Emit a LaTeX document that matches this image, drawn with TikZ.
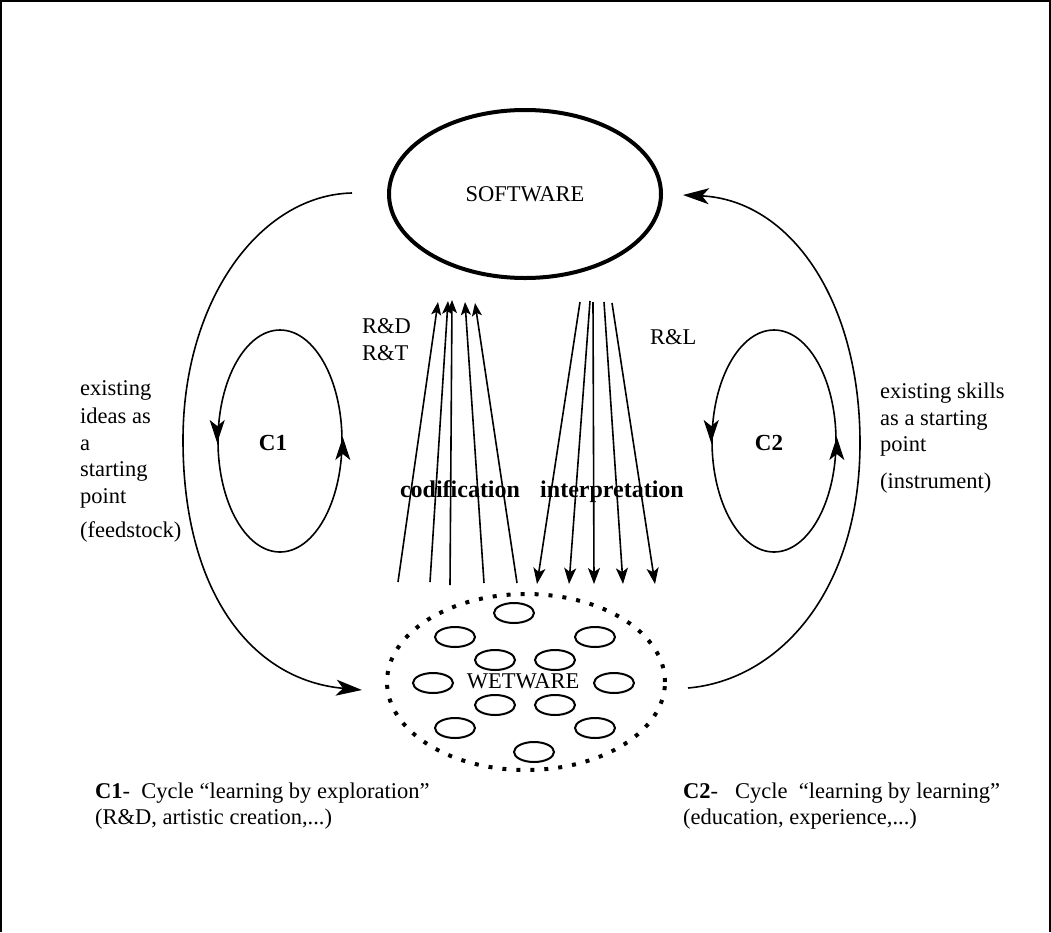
\documentclass[tikz,border=0pt]{standalone}
\usepackage{fontspec}
\setmainfont{Liberation Serif}
\usetikzlibrary{arrows.meta,shapes.geometric}
\begin{document}
\begin{tikzpicture}[x=1pt,y=-1pt,
  txt/.style={font=\fontsize{22.5}{27}\selectfont, inner sep=0pt, anchor=base west},
  boldlab/.style={font=\fontsize{23}{27}\selectfont\bfseries, inner sep=0pt},
  bigword/.style={font=\fontsize{24}{27}\selectfont\bfseries, inner sep=0pt, anchor=base},
  thinline/.style={line width=1.6pt},
  bigarrow/.style={thinline, -{Stealth[length=26pt,width=16pt,inset=7pt]}},
  cycarrow/.style={thinline, -{Stealth[length=23pt,width=15pt,inset=6pt]}},
  uparrow/.style={line width=1.6pt, -{Stealth[length=13pt,width=10pt,inset=3pt]}},
  downarrow/.style={line width=1.6pt, -{Stealth[length=16pt,width=12pt,inset=4pt]}},
  cell/.style={draw, ellipse, line width=2pt, minimum width=40pt, minimum height=20pt, inner sep=0pt},
  cycle/.style={draw, ellipse, thinline, minimum width=124pt, minimum height=222pt, inner sep=0pt}
]
\useasboundingbox (0,0) rectangle (1051,932);
% frame
\draw[line width=1.5pt] (1,932) -- (1,1) -- (1050,1) -- (1050,932);

% SOFTWARE
\node[draw, ellipse, line width=4pt, minimum width=272pt, minimum height=168pt, inner sep=0pt,
      font=\fontsize{22.5}{27}\selectfont] (sw) at (525,194) {SOFTWARE};

% WETWARE
\node[draw, ellipse, line width=4pt, dash pattern=on 4pt off 10pt, minimum width=278pt,
      minimum height=176pt, inner sep=0pt] (ww) at (526,682) {};
\node[cell] (w1) at (514,613) {};
\node[cell] (w2) at (455,637) {};
\node[cell] (w3) at (595,637) {};
\node[cell] (w4) at (495,660) {};
\node[cell] (w5) at (555,660) {};
\node[cell] (w6) at (433,683) {};
\node[cell] (w7) at (614,683) {};
\node[cell] (w8) at (495,705) {};
\node[cell] (w9) at (555,705) {};
\node[cell] (w10) at (455,728) {};
\node[cell] (w11) at (595,728) {};
\node[cell] (w12) at (534,752) {};
\node[font=\fontsize{22.5}{27}\selectfont, inner sep=0pt] (wwlab) at (523,681) {WETWARE};

% cycles
\node[cycle] (c1) at (280,441) {};
\node[boldlab] (c1lab) at (273,443) {C1};
\draw[cycarrow] ([yshift=4pt]c1.west) -- ([yshift=-2pt]c1.west);
\draw[cycarrow] ([yshift=-6pt]c1.east) -- ([yshift=4pt]c1.east);

\node[cycle] (c2) at (774,441) {};
\node[boldlab] (c2lab) at (769,443) {C2};
\draw[cycarrow] ([yshift=4pt]c2.west) -- ([yshift=-2pt]c2.west);
\draw[cycarrow] ([yshift=-6pt]c2.east) -- ([yshift=4pt]c2.east);

% big curves
\coordinate (l0) at (352,193);
\coordinate (l1) at (362,690);
\coordinate (r0) at (688,688);
\coordinate (r1) at (683,195);
\draw[bigarrow] (l0) .. controls (260,195) and (183,300) .. (183,440)
   .. controls (183,590) and (250,680) .. (l1);
\draw[bigarrow] (r0) .. controls (780,680) and (860,590) .. (860,443)
   .. controls (860,300) and (790,200) .. (r1);

% codification arrows
\coordinate (cb1) at (398,582); \coordinate (ct1) at (438,302);
\coordinate (cb2) at (430,582); \coordinate (ct2) at (448,301);
\coordinate (cb3) at (450,585); \coordinate (ct3) at (452,300);
\coordinate (cb4) at (484,583); \coordinate (ct4) at (465,302);
\coordinate (cb5) at (517,583); \coordinate (ct5) at (475,303);
\foreach \i in {1,...,5} \draw[uparrow] (cb\i) -- (ct\i);

% interpretation arrows
\coordinate (it1) at (580,302); \coordinate (ib1) at (537,584);
\coordinate (it2) at (590,301); \coordinate (ib2) at (569,584);
\coordinate (it3) at (593,302); \coordinate (ib3) at (594,584);
\coordinate (it4) at (604,302); \coordinate (ib4) at (623,584);
\coordinate (it5) at (612,303); \coordinate (ib5) at (655,584);
\foreach \i in {1,...,5} \draw[downarrow] (it\i) -- (ib\i);

% labels in the middle
\node[txt] (rd) at (362,333) {R\&D};
\node[txt] (rt) at (362,360) {R\&T};
\node[txt] (rl) at (650,344) {R\&L};
\node[bigword] (cod) at (460,497) {codification};
\node[bigword] (int) at (612,497) {interpretation};

% left side text
\node[txt] (la1) at (80,395) {existing};
\node[txt] (la2) at (80,423) {ideas as};
\node[txt] (la3) at (80,450) {a};
\node[txt] (la4) at (80,476) {starting};
\node[txt] (la5) at (80,503) {point};
\node[txt] (la6) at (80,537) {(feedstock)};

% right side text
\node[txt] (ra1) at (880,398) {existing skills};
\node[txt] (ra2) at (880,425) {as a starting};
\node[txt] (ra3) at (880,451) {point};
\node[txt] (ra4) at (880,488) {(instrument)};

% captions
\node[txt] (cap1a) at (95,798) {\textbf{C1}-\ \ Cycle “learning by exploration”};
\node[txt] (cap1b) at (95,824) {(R\&D, artistic creation,...)};
\node[txt] (cap2a) at (683,798) {\textbf{C2}-\ \ \ Cycle\ \ “learning by learning”};
\node[txt] (cap2b) at (683,824) {(education, experience,...)};
\end{tikzpicture}
\end{document}
